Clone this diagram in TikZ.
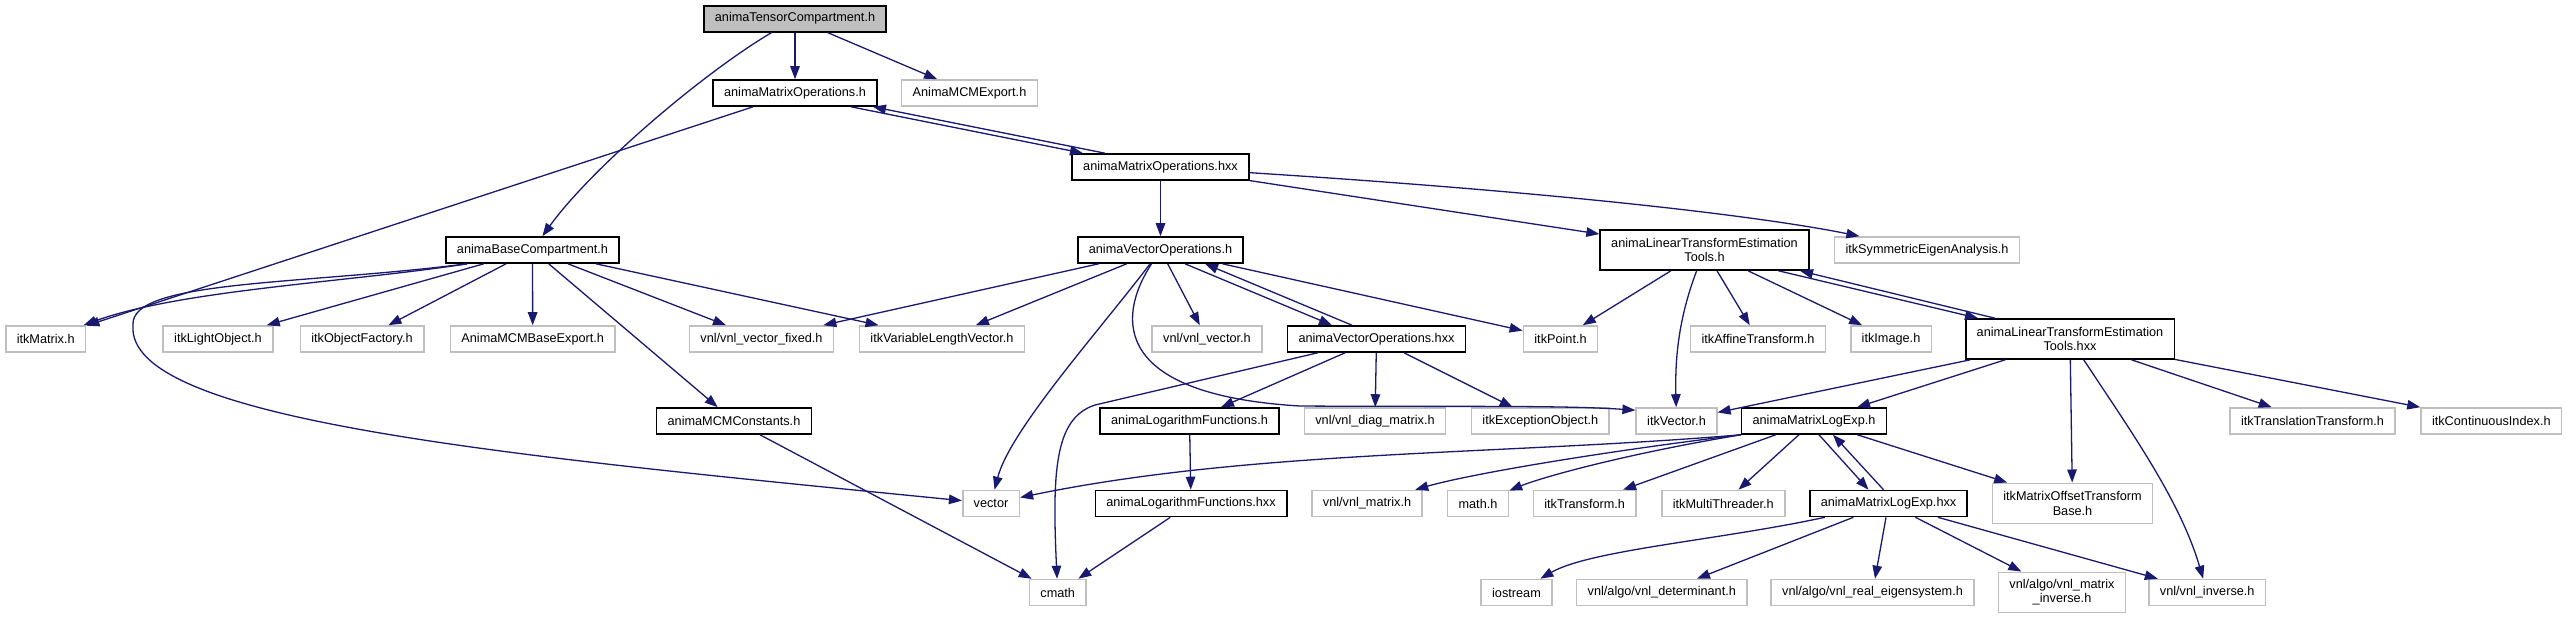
\documentclass[tikz,border=0pt]{standalone}
\usepackage{fontspec}
\setmainfont{Liberation Sans}
\usepackage{xcolor}
\definecolor{depblue}{HTML}{191970}
\definecolor{extgrey}{HTML}{BFBFBF}
\usetikzlibrary{arrows.meta}

\begin{document}
\begin{tikzpicture}[
      x=1pt, y=-1pt,
      hdr/.style={draw=black, line width=1.6pt, fill=white, minimum height=26pt, inner xsep=11pt, inner ysep=5pt, align=center, font=\fontsize{12.7}{14.7}\selectfont},
      ext/.style={hdr, draw=extgrey},
      root/.style={hdr, fill=extgrey},
      two/.style={minimum height=40pt},
      dep/.style={draw=depblue, line width=1.3pt, -{Triangle[length=13pt,width=9.5pt]}}
    ]
    \fill[white, use as bounding box] (0,0) rectangle (2567,619);

    \node[root] (tc) at (795,18.7) {animaTensorCompartment.h};
    \node[hdr] (mop) at (795,93) {animaMatrixOperations.h};
    \node[ext] (mcmexp) at (969.5,93) {AnimaMCMExport.h};
    \node[hdr] (mophxx) at (1160.5,167) {animaMatrixOperations.hxx};

    \node[hdr] (base) at (532.5,250) {animaBaseCompartment.h};
    \node[hdr] (vop) at (1160.5,250) {animaVectorOperations.h};
    \node[hdr, two] (lte) at (1704.5,250) {animaLinearTransformEstimation\\Tools.h};
    \node[ext] (symeig) at (1927,250) {itkSymmetricEigenAnalysis.h};

    \node[ext] (matrix) at (45.7,339) {itkMatrix.h};
    \node[ext] (lobj) at (218,339) {itkLightObject.h};
    \node[ext] (ofac) at (362,339) {itkObjectFactory.h};
    \node[ext] (bexp) at (532.7,339) {AnimaMCMBaseExport.h};
    \node[ext] (vfix) at (761.5,339) {vnl/vnl\_vector\_fixed.h};
    \node[ext] (vlen) at (942,339) {itkVariableLengthVector.h};
    \node[ext] (vnlvec) at (1207,339) {vnl/vnl\_vector.h};
    \node[hdr] (vophxx) at (1376.5,339) {animaVectorOperations.hxx};
    \node[ext] (point) at (1560.5,339) {itkPoint.h};
    \node[ext] (affine) at (1758,339) {itkAffineTransform.h};
    \node[ext] (image) at (1891,339) {itkImage.h};
    \node[hdr, two] (ltehxx) at (2070,339) {animaLinearTransformEstimation\\Tools.hxx};

    \node[hdr] (mcmc) at (734,421) {animaMCMConstants.h};
    \node[hdr] (logf) at (1189.5,421) {animaLogarithmFunctions.h};
    \node[ext] (diag) at (1375,421) {vnl/vnl\_diag\_matrix.h};
    \node[ext] (exc) at (1540.3,421) {itkExceptionObject.h};
    \node[ext] (itkvec) at (1676.5,421) {itkVector.h};
    \node[hdr] (mle) at (1814,421) {animaMatrixLogExp.h};
    \node[ext] (transl) at (2312.5,421) {itkTranslationTransform.h};
    \node[ext] (cidx) at (2491.3,421) {itkContinuousIndex.h};

    \node[ext] (stdvec) at (991,503.5) {vector};
    \node[hdr] (logfhxx) at (1191,503.5) {animaLogarithmFunctions.hxx};
    \node[ext] (vnlmat) at (1367,503.5) {vnl/vnl\_matrix.h};
    \node[ext] (mathh) at (1478,503.5) {math.h};
    \node[ext] (trf) at (1584.7,503.5) {itkTransform.h};
    \node[ext] (mthr) at (1723.3,503.5) {itkMultiThreader.h};
    \node[hdr] (mlehxx) at (1888.5,503.5) {animaMatrixLogExp.hxx};
    \node[ext, two] (motb) at (2072.5,503.3) {itkMatrixOffsetTransform\\Base.h};

    \node[ext] (cmath) at (1057.7,592.5) {cmath};
    \node[ext] (iostr) at (1516.5,592.5) {iostream};
    \node[ext] (det) at (1661.8,592.5) {vnl/algo/vnl\_determinant.h};
    \node[ext] (reig) at (1872.5,592.5) {vnl/algo/vnl\_real\_eigensystem.h};
    \node[ext, two] (minv) at (2062,592.3) {vnl/algo/vnl\_matrix\\\_inverse.h};
    \node[ext] (vinv) at (2207.2,592.5) {vnl/vnl\_inverse.h};

    \draw[dep] (tc) -- (mop);
    \draw[dep] (tc) -- (mcmexp);
    \draw[dep] (tc) .. controls (700,75) and (590,170) .. (base);
    \draw[dep] (mop) -- (matrix);
    \draw[dep] ([xshift=56pt]mop.south) -- ([xshift=-77.5pt]mophxx.north);
    \draw[dep] ([xshift=-55.5pt]mophxx.north) -- ([xshift=78pt]mop.south);
    \foreach \t in {vop,lte} { \draw[dep] (mophxx) -- (\t); }
    \draw[dep] (mophxx) .. controls (1600,195) and (1780,220) .. (symeig);

    \foreach \t in {lobj,ofac,bexp,vfix,vlen,mcmc} { \draw[dep] (base) -- (\t); }
    \draw[dep] ([xshift=22pt]base.south west) .. controls (350,282) and (180,290) .. (matrix);
    \draw[dep] ([xshift=22pt]base.south west) .. controls (300,285) and (130,280) .. (133,325)
      .. controls (125,420) and (500,455) .. (stdvec);

    \foreach \t in {vfix,vlen,vnlvec,point} { \draw[dep] (vop) -- (\t); }
    \draw[dep] (vop) .. controls (1100,330) and (1010,430) .. (stdvec);
    \draw[dep] (vop) .. controls (1115,320) and (1115,395) .. (1300,406)
      .. controls (1450,407) and (1560,405) .. ([yshift=-3pt]itkvec.north west);
    \draw[dep] ([xshift=24.5pt]vop.south) -- ([xshift=-44.5pt]vophxx.north);
    \draw[dep] ([xshift=-24.5pt]vophxx.north) -- ([xshift=44.5pt]vop.south);

    \draw[dep] (vophxx) -- (1095,405) .. controls (1055,418) and (1052,470) .. (cmath);
    \foreach \t in {logf,diag,exc} { \draw[dep] (vophxx) -- (\t); }

    \foreach \t in {point,affine,image} { \draw[dep] (lte) -- (\t); }
    \draw[dep] (lte) .. controls (1678,320) and (1675,360) .. (itkvec);
    \draw[dep] ([xshift=74pt]lte.south) -- ([xshift=-92pt]ltehxx.north);
    \draw[dep] ([xshift=-75pt]ltehxx.north) -- ([xshift=95.5pt]lte.south);

    \foreach \t in {itkvec,mle,motb,transl,cidx} { \draw[dep] (ltehxx) -- (\t); }
    \draw[dep] (ltehxx) .. controls (2130,430) and (2180,500) .. (vinv);

    \draw[dep] (mle.south west) .. controls (1500,455) and (1250,450) .. (stdvec);
    \draw[dep] (mle.south west) .. controls (1600,452) and (1470,474) .. (vnlmat);
    \draw[dep] (mle.south west) .. controls (1620,455) and (1540,478) .. (mathh);
    \foreach \t in {trf,mthr,motb} { \draw[dep] (mle) -- (\t); }
    \draw[dep] ([xshift=5pt]mle.south) -- ([xshift=-20pt]mlehxx.north);
    \draw[dep] ([xshift=-5pt]mlehxx.north) -- ([xshift=19pt]mle.south);

    \draw[dep] (mlehxx) .. controls (1720,540) and (1590,550) .. (iostr);
    \foreach \t in {det,reig,minv,vinv} { \draw[dep] (mlehxx) -- (\t); }

    \draw[dep] (mcmc) -- (cmath);
    \draw[dep] (logf) -- (logfhxx);
    \draw[dep] (logfhxx) -- (cmath);
  \end{tikzpicture}
\end{document}
